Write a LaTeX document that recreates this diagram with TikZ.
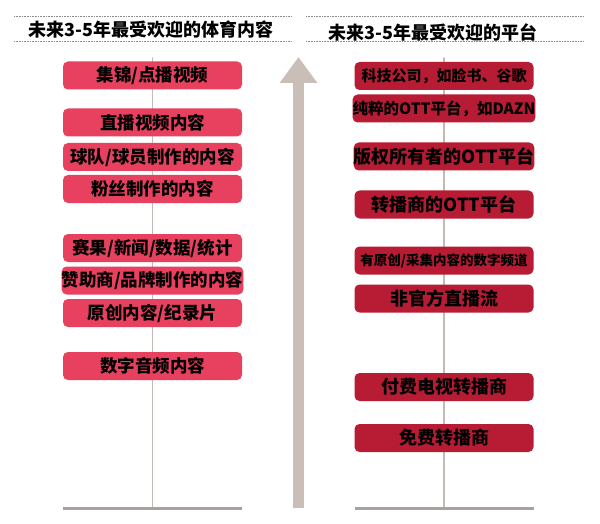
\documentclass[tikz,border=0pt]{standalone}
\usepackage{fontspec}
\newfontfamily\cjk{Noto Sans CJK SC}
\usetikzlibrary{arrows.meta,positioning}
\definecolor{pinkred}{HTML}{E8405F}
\definecolor{darkred}{HTML}{B71C34}
\definecolor{stemgray}{HTML}{C2BAB5}
\definecolor{basegray}{HTML}{A9A19D}
\definecolor{arrowgray}{HTML}{C9BFB8}

\begin{document}
\begin{tikzpicture}[x=1pt, y=-1pt,
    lbox/.style={fill=pinkred, rounded corners=5pt, minimum width=179pt, minimum height=28pt, inner sep=0pt, text=black, font=\cjk\bfseries\fontsize{17.5}{18}\selectfont},
    rbox/.style={lbox, fill=darkred},
    fs/.style={font=\cjk\bfseries\fontsize{#1}{#1}\selectfont},
    stem/.style={draw=stemgray, line width=1.6pt, line cap=round},
    baseline rule/.style={draw=basegray, line width=2.2pt},
    rule/.style={draw=gray!90, line width=1pt, dash pattern=on 0.8pt off 0.8pt},
    title/.style={font=\cjk\bfseries\fontsize{18}{18}\selectfont, inner sep=0pt},
    bigarr/.style={draw=arrowgray, line width=11pt, -{Triangle[width=36pt, length=26pt]}}
]
\fill[white] (0,0) rectangle (600,524);
\useasboundingbox (0,0) rectangle (600,524);

% titles
\draw[rule] (14,17) -- (291,17);
\draw[rule] (14,42) -- (291,42);
\node[title] (ltitle) at (151,30) {未来3-5年最受欢迎的体育内容};
\draw[rule] (306,17) -- (583,17);
\draw[rule] (306,42) -- (583,42);
\node[title] (rtitle) at (433,32) {未来3-5年最受欢迎的平台};

% stems
\coordinate (ltop) at (152.5,58);
\coordinate (lbot) at (152.5,508);
\coordinate (lleft) at (63,508.5);
\coordinate (lright) at (242,508.5);
\coordinate (rtop) at (444,58);
\coordinate (rbot) at (444,508);
\coordinate (rleft) at (355,508.5);
\coordinate (rright) at (534,508.5);
\draw[stem] (ltop) -- (lbot);
\draw[baseline rule] (lleft) -- (lright);
\draw[stem] (rtop) -- (rbot);
\draw[baseline rule] (rleft) -- (rright);

% arrow
\coordinate (abot) at (298.5,508);
\coordinate (atop) at (298.5,57);
\draw[bigarr] (abot) -- (atop);

% sports content
\node[lbox] (hilite) at (152.5,75.5) {集锦/点播视频};
\node[lbox] (livevid) at (152.5,122.5) {直播视频内容};
\node[lbox] (teamcont) at (152.5,157) {球队/球员制作的内容};
\node[lbox] (fancont) at (152.5,189) {粉丝制作的内容};
\node[lbox] (results) at (152.5,248) {赛果/新闻/数据/统计};
\node[lbox] (sponsor) at (152.5,280.5) {赞助商/品牌制作的内容};
\node[lbox] (original) at (152.5,313) {原创内容/纪录片};
\node[lbox] (audio) at (152.5,366) {数字音频内容};

% platforms
\node[rbox, fs=15] (techco) at (444,76) {科技公司，如脸书、谷歌};
\node[rbox, fs=15.5] (pureott) at (444,108.5) {纯粹的OTT平台，如DAZN};
\node[rbox, fs=18] (rightsott) at (444,156.5) {版权所有者的OTT平台};
\node[rbox, fs=18] (bcastott) at (444,204.5) {转播商的OTT平台};
\node[rbox, fs=13.5] (digchan) at (444,260.5) {有原创/采集内容的数字频道};
\node[rbox, fs=18] (unofficial) at (444,298.5) {非官方直播流};
\node[rbox, fs=18] (paytv) at (444,387) {付费电视转播商};
\node[rbox, fs=18] (freetv) at (444,438) {免费转播商};
\end{tikzpicture}
\end{document}
